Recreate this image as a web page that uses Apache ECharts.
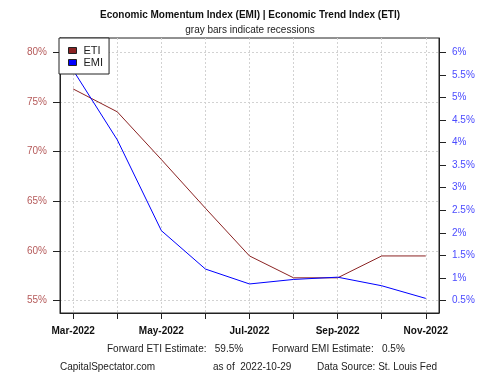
<!DOCTYPE html>
<html>
<head>
    <meta charset="UTF-8">
    <title>EMI / ETI</title>
    <style>
        html, body { margin: 0; padding: 0; background: #fff; }
        #chart { width: 500px; height: 375px; }
    </style>
    <script src="https://cdn.jsdelivr.net/npm/echarts@6/dist/echarts.min.js"></script>
</head>
<body>
    <div id="chart"></div>
    <script type="text/javascript">
        // data
        var months = ['Mar-2022', 'Apr-2022', 'May-2022', 'Jun-2022', 'Jul-2022',
                      'Aug-2022', 'Sep-2022', 'Oct-2022', 'Nov-2022'];
        var eti = [76.3, 74.0, 69.2, 64.3, 59.5, 57.3, 57.3, 59.5, 59.5];   // left axis, %
        var emi = [5.6, 4.06, 2.05, 1.2, 0.87, 0.97, 1.02, 0.83, 0.55];     // right axis, %
        var leftTicks = [55, 60, 65, 70, 75, 80];
        var rightTicks = [0.5, 1, 1.5, 2, 2.5, 3, 3.5, 4, 4.5, 5, 5.5, 6];
        var monthTicks = [0, 1, 2, 3, 4, 5, 6, 7, 8];
        var monthLabels = [0, 2, 4, 6, 8];

        var font = 'Liberation Sans, Arial, sans-serif';
        var chart = echarts.init(document.getElementById('chart'));

        var gridLine = { show: true, lineStyle: { color: '#d2d2d2', type: [2, 2], width: 1 } };
        var frameLine = { show: true, onZero: false, lineStyle: { color: '#222' } };

        var option = {
            animation: false,
            backgroundColor: '#fff',
            grid: {
                left: 60, top: 38, right: 61, bottom: 62,
                show: true, borderColor: '#222', borderWidth: 1
            },
            legend: {
                orient: 'vertical',
                left: 59, top: 38,
                padding: [7, 6, 6, 9],
                itemGap: 1,
                itemWidth: 8, itemHeight: 6,
                icon: 'rect',
                backgroundColor: '#fff',
                borderColor: '#222', borderWidth: 1,
                textStyle: { fontFamily: font, fontSize: 11, lineHeight: 11, color: '#222', padding: [0, 0, 0, 2] },
                data: [
                    { name: 'ETI', itemStyle: { color: '#8b2323', borderColor: '#222', borderWidth: 1 } },
                    { name: 'EMI', itemStyle: { color: '#0000ff', borderColor: '#222', borderWidth: 1 } }
                ]
            },
            xAxis: {
                type: 'value',
                min: -0.3, max: 8.3,
                axisLine: frameLine,
                axisTick: { show: true, inside: false, customValues: monthTicks, length: 6, lineStyle: { color: '#222' } },
                axisLabel: {
                    customValues: monthLabels,
                    margin: 13,
                    fontFamily: font, fontSize: 10, fontWeight: 'bold', color: '#111',
                    formatter: function (v) { return months[Math.round(v)]; }
                },
                splitLine: gridLine
            },
            yAxis: [{
                type: 'value',
                min: 53.76, max: 81.43,
                axisLine: frameLine,
                axisTick: { show: true, inside: false, customValues: leftTicks, length: 7, lineStyle: { color: '#222' } },
                axisLabel: {
                    customValues: leftTicks,
                    margin: 13,
                    fontFamily: font, fontSize: 10, color: '#b55a5a',
                    formatter: function (v) { return Math.round(v) + '%'; }
                },
                splitLine: gridLine
            }, {
                type: 'value',
                position: 'right',
                min: 0.227, max: 6.315,
                axisLine: frameLine,
                axisTick: { show: true, inside: false, customValues: rightTicks, length: 7, lineStyle: { color: '#222' } },
                axisLabel: {
                    customValues: rightTicks,
                    margin: 13,
                    fontFamily: font, fontSize: 10, color: '#4b4bff',
                    formatter: function (v) { return (Math.round(v * 10) / 10) + '%'; }
                },
                splitLine: { show: false }
            }],
            series: [{
                name: 'ETI',
                type: 'line',
                yAxisIndex: 0,
                symbol: 'none',
                lineStyle: { color: '#8b2323', width: 1 },
                itemStyle: { color: '#8b2323' },
                data: eti.map(function (v, i) { return [i, v]; }),
                z: 2
            }, {
                name: 'EMI',
                type: 'line',
                yAxisIndex: 1,
                symbol: 'none',
                lineStyle: { color: '#0000ff', width: 1 },
                itemStyle: { color: '#0000ff' },
                data: emi.map(function (v, i) { return [i, v]; }),
                z: 3
            }],
            graphic: [
                { type: 'text', left: 'center', top: 10,
                  style: { text: 'Economic Momentum Index (EMI) | Economic Trend Index (ETI)',
                           font: 'bold 10px ' + font, fill: '#111' } },
                { type: 'text', left: 'center', top: 25,
                  style: { text: 'gray bars indicate recessions', font: '10px ' + font, fill: '#222' } },
                { type: 'text', left: 107, top: 344,
                  style: { text: 'Forward ETI Estimate:   59.5%', font: '10px ' + font, fill: '#222' } },
                { type: 'text', left: 272, top: 344,
                  style: { text: 'Forward EMI Estimate:   0.5%', font: '10px ' + font, fill: '#222' } },
                { type: 'text', left: 60, top: 362,
                  style: { text: 'CapitalSpectator.com', font: '10px ' + font, fill: '#222' } },
                { type: 'text', left: 213, top: 362,
                  style: { text: 'as of  2022-10-29', font: '10px ' + font, fill: '#222' } },
                { type: 'text', left: 317, top: 362,
                  style: { text: 'Data Source: St. Louis Fed', font: '10px ' + font, fill: '#222' } }
            ]
        };

        chart.setOption(option);
    </script>
</body>
</html>
